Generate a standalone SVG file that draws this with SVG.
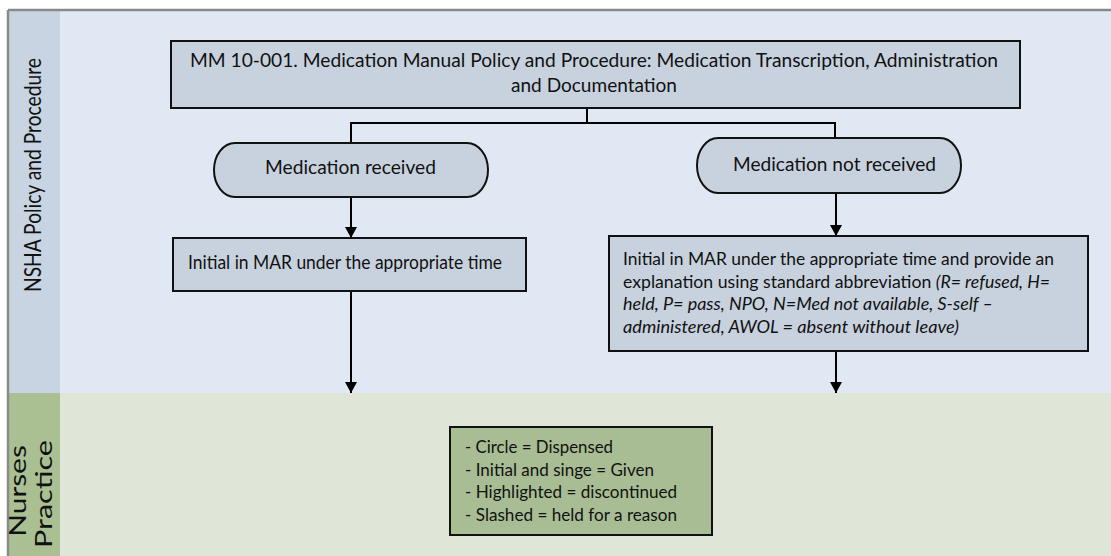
<svg xmlns="http://www.w3.org/2000/svg" width="1111" height="556" viewBox="0 0 1111 556">
  <defs>
    <marker id="arrow" markerWidth="11" markerHeight="12" refX="11" refY="6" orient="auto" markerUnits="userSpaceOnUse">
      <path d="M0,0 L11,6 L0,12 Z" fill="#000"/>
    </marker>
    <style>
      .t { font-family: Lato, "Open Sans", "Liberation Sans", sans-serif; fill: #111; }
      .body { font-size: 19.5px; }
      .list { font-size: 18px; }
      .small { font-size: 18px; }
      .lane { font-size: 23px; }
      .node { fill: #C8D2DE; stroke: #111; stroke-width: 2; }
      .legend { fill: #A8BD93; stroke: #111; stroke-width: 2; }
      .conn { fill: none; stroke: #000; stroke-width: 2; }
    </style>
  </defs>

  <!-- swimlanes -->
  <g id="lanes">
    <rect x="0" y="0" width="1111" height="556" fill="#ffffff"/>
    <rect x="8" y="10" width="1103" height="383" fill="#DFE8F3"/>
    <rect x="8" y="393" width="1103" height="163" fill="#DFE6D7"/>
    <rect x="8" y="10" width="52" height="383" fill="#C8D4E1"/>
    <rect x="8" y="393" width="52" height="163" fill="#AAC093"/>
    <path d="M8,10 H1111 M8,10 V556" fill="none" stroke="#8A8A8A" stroke-width="2.5"/>
  </g>

  <g id="lane-policy">
    <text class="t lane" transform="translate(41,175) rotate(-90)" text-anchor="middle" textLength="234" lengthAdjust="spacingAndGlyphs">NSHA Policy and Procedure</text>
  </g>
  <g id="lane-practice">
    <text class="t lane" transform="translate(26,491) rotate(-90) scale(1.3,1)" text-anchor="middle">Nurses</text>
    <text class="t lane" transform="translate(52,494) rotate(-90) scale(1.33,1)" text-anchor="middle">Practice</text>
  </g>

  <!-- connectors -->
  <g id="connectors">
    <path class="conn" d="M587,108 V123 M351,123 H835 M351,122 V143 M835,122 V138"/>
    <line class="conn" x1="351" y1="197" x2="351" y2="238" marker-end="url(#arrow)"/>
    <line class="conn" x1="836" y1="193" x2="836" y2="236" marker-end="url(#arrow)"/>
    <line class="conn" x1="351" y1="291" x2="351" y2="393" marker-end="url(#arrow)"/>
    <line class="conn" x1="836" y1="351" x2="836" y2="393" marker-end="url(#arrow)"/>
  </g>

  <g id="policy-title">
    <rect class="node" x="171" y="41" width="849" height="67"/>
    <text class="t body" x="190" y="67" textLength="808" lengthAdjust="spacingAndGlyphs">MM 10-001. Medication Manual Policy and Procedure: Medication Transcription, Administration</text>
    <text class="t body" x="511" y="92" textLength="166" lengthAdjust="spacingAndGlyphs">and Documentation</text>
  </g>

  <g id="med-received">
    <rect class="node" x="214" y="143" width="274" height="54" rx="21" ry="27"/>
    <text class="t body" x="265" y="174" textLength="171" lengthAdjust="spacingAndGlyphs">Medication received</text>
  </g>

  <g id="med-not-received">
    <rect class="node" x="697" y="138" width="264" height="55" rx="21" ry="27.5"/>
    <text class="t body" x="733" y="171" textLength="203" lengthAdjust="spacingAndGlyphs">Medication not received</text>
  </g>

  <g id="initial-received">
    <rect class="node" x="173" y="238" width="353" height="53"/>
    <text class="t body" x="188" y="269" textLength="314" lengthAdjust="spacingAndGlyphs">Initial in MAR under the appropriate time</text>
  </g>

  <g id="initial-not-received">
    <rect class="node" x="609" y="236" width="479" height="115"/>
    <text class="t list" x="623" y="265" textLength="431" lengthAdjust="spacingAndGlyphs">Initial in MAR under the appropriate time and provide an</text>
    <text class="t list" x="623" y="287.5" textLength="427" lengthAdjust="spacingAndGlyphs">explanation using  standard abbreviation <tspan font-style="italic">(R= refused, H=</tspan></text>
    <text class="t list" x="623" y="310" font-style="italic" textLength="370" lengthAdjust="spacingAndGlyphs">held, P= pass, NPO, N=Med not available, S-self –</text>
    <text class="t list" x="623" y="332.5" font-style="italic" textLength="336" lengthAdjust="spacingAndGlyphs">administered, AWOL = absent without leave)</text>
  </g>

  <g id="practice-legend">
    <rect class="legend" x="450" y="427" width="262" height="108"/>
    <text class="t small" x="465" y="453" textLength="148" lengthAdjust="spacingAndGlyphs">- Circle = Dispensed</text>
    <text class="t small" x="465" y="475.5" textLength="189" lengthAdjust="spacingAndGlyphs">- Initial and singe = Given</text>
    <text class="t small" x="465" y="498" textLength="212" lengthAdjust="spacingAndGlyphs">- Highlighted = discontinued</text>
    <text class="t small" x="465" y="520.5" textLength="212" lengthAdjust="spacingAndGlyphs">- Slashed = held for a reason</text>
  </g>
</svg>
